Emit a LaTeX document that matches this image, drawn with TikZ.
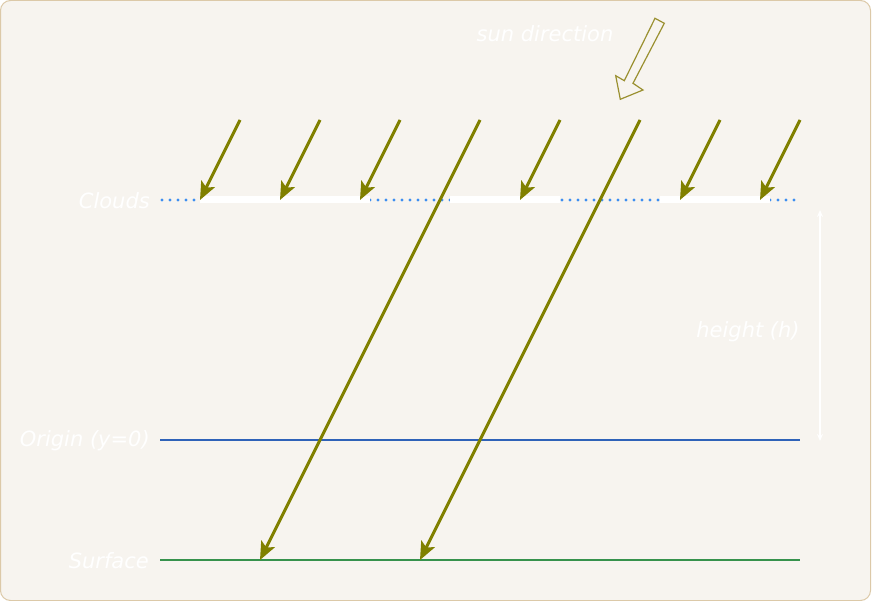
\documentclass[tikz,border=0pt]{standalone}
\usepackage{fontspec}
\setmainfont{DejaVu Sans}
\usetikzlibrary{arrows.meta}
\definecolor{bgfill}{HTML}{F7F4EF}
\definecolor{bgborder}{HTML}{DCC9A8}
\definecolor{rayolive}{HTML}{808000}
\definecolor{hollow}{HTML}{9A9030}
\definecolor{cloudblue}{HTML}{3D8EF0}
\definecolor{originblue}{HTML}{2F62B8}
\definecolor{surfgreen}{HTML}{36924C}
\tikzset{
  sunray/.style={draw=rayolive, line width=3pt, -{Stealth[length=18pt,width=15pt,inset=4pt]}},
  lbl/.style={text=white, font=\fontsize{21}{25}\selectfont\itshape, inner sep=0pt},
  cloudgap/.style={draw=cloudblue, line width=3.4pt, dash pattern=on 0pt off 8pt, line cap=round},
  cloudbody/.style={draw=white, line width=7pt},
}
\begin{document}
\begin{tikzpicture}[x=1pt,y=-1pt]
\useasboundingbox (0,0) rectangle (881,601);
\fill[white] (0,0) rectangle (881,601);
\draw[bgborder, fill=bgfill, line width=1pt, rounded corners=10pt] (0.5,0.5) rectangle (870.5,600.5);

% cloud layer
\coordinate (cl0) at (162,200);
\coordinate (cl1) at (800,200);
\draw[cloudgap] (cl0) -- (cl1);
\coordinate (c1a) at (200,200); \coordinate (c1b) at (370,200);
\coordinate (c2a) at (450,200); \coordinate (c2b) at (560,200);
\coordinate (c3a) at (660,200); \coordinate (c3b) at (770,200);
\draw[cloudbody] (c1a) -- (c1b);
\draw[cloudbody] (c2a) -- (c2b);
\draw[cloudbody] (c3a) -- (c3b);

% origin and surface lines
\coordinate (o0) at (160,440); \coordinate (o1) at (800,440);
\coordinate (s0) at (160,560); \coordinate (s1) at (800,560);
\draw[originblue, line width=1.3pt] (o0) -- (o1);
\draw[surfgreen, line width=1.3pt] (s0) -- (s1);

% labels
\node[lbl, anchor=east] (clouds) at (150,201) {Clouds};
\node[lbl, anchor=east] (origin) at (150,441) {Origin (y=0)};
\node[lbl, anchor=east] (surface) at (149,561) {Surface};
\node[lbl] (height) at (748,332) {height (h)};
\node[lbl] (sun) at (545,34) {sun direction};

% height arrow
\coordinate (h0) at (820,210); \coordinate (h1) at (820,441);
\draw[white, line width=1.2pt, {Stealth[length=7pt,width=6pt]}-{Stealth[length=7pt,width=6pt]}] (h0) -- (h1);

% sun rays
\foreach \sx in {240,320,400,560,720,800}{
  \draw[sunray] (\sx,120) -- ++(-40,80);
}
\coordinate (r1s) at (480,120); \coordinate (r1e) at (260,560);
\coordinate (r2s) at (640,120); \coordinate (r2e) at (420,560);
\draw[sunray] (r1s) -- (r1e);
\draw[sunray] (r2s) -- (r2e);

% hollow sun-direction arrow
\draw[hollow, line width=1.2pt, line join=miter, fill=none]
  (655,18.3) -- (664.3,23.3) -- (633,83.3) -- (643,90) -- (620.3,99.3)
  -- (615.7,75.7) -- (624.3,80.7) -- cycle;
\end{tikzpicture}
\end{document}
